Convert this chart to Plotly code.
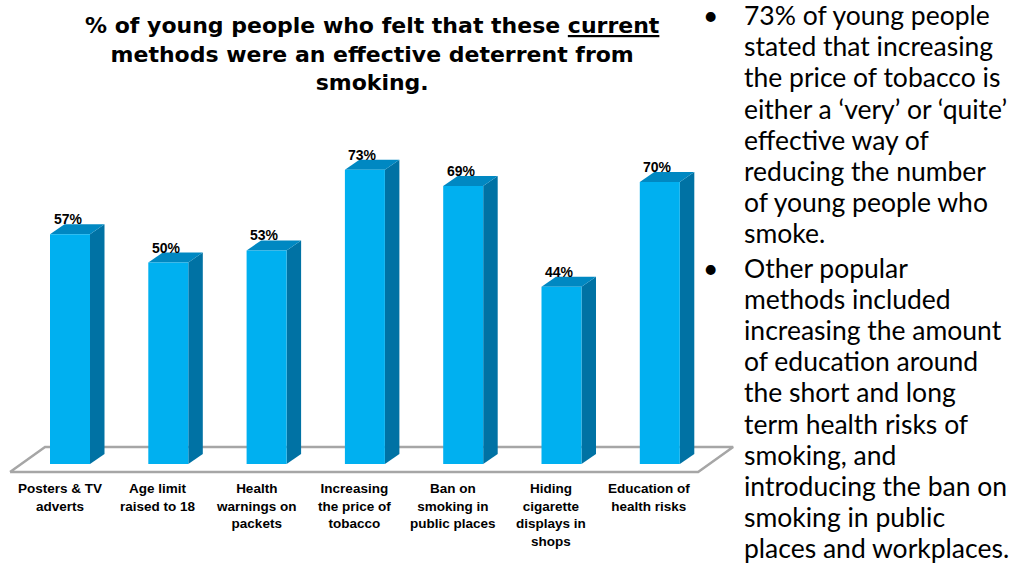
import plotly.graph_objects as go

# ---------------- data ----------------
categories = [
    "Posters & TV<br>adverts",
    "Age limit<br>raised to 18",
    "Health<br>warnings on<br>packets",
    "Increasing<br>the price of<br>tobacco",
    "Ban on<br>smoking in<br>public places",
    "Hiding<br>cigarette<br>displays in<br>shops",
    "Education of<br>health risks",
]
values = [57, 50, 53, 73, 69, 44, 70]
value_labels = [f"{v}%" for v in values]

title_lines = [
    "% of young people who felt that these <u>current</u>",
    "methods were an effective deterrent from",
    "smoking.",
]
bullet_1 = [
    "73% of young people",
    "stated that increasing",
    "the price of tobacco is",
    "either a \u2018very\u2019 or \u2018quite\u2019",
    "effective way of",
    "reducing the number",
    "of young people who",
    "smoke.",
]
bullet_2 = [
    "Other popular",
    "methods included",
    "increasing the amount",
    "of education around",
    "the short and long",
    "term health risks of",
    "smoking, and",
    "introducing the ban on",
    "smoking in public",
    "places and workplaces.",
]

# ---------------- layout calibration ----------------
W, H = 1031, 572
X0_PX, X_STEP_PX = 70.0, 98.3      # pixel of first category, pixels per category
Y0_PX, Y_STEP_PX = 464.0, 4.03     # pixel of value 0, pixels per percentage point
x_range = [(0 - X0_PX) / X_STEP_PX, (W - X0_PX) / X_STEP_PX]
y_range = [-(H - Y0_PX) / Y_STEP_PX, Y0_PX / Y_STEP_PX]

HALF = 20 / X_STEP_PX          # half width of bar front face
DX = 14.5 / X_STEP_PX          # 3D depth (x)
DY = 10 / Y_STEP_PX            # 3D depth (y)

FRONT = "#00B0F0"
TOP = "#0088C2"
SIDE = "#0072A4"
FLOOR_LINE = "#A6A6A6"

fig = go.Figure()

n = len(categories)
# floor (parallelogram)
fl_left, fl_right = -0.61, (n - 1) + 0.39
fl_front, fl_back = -8 / Y_STEP_PX, 17 / Y_STEP_PX
fl_dx = 35 / X_STEP_PX
fig.add_trace(go.Scatter(
    x=[fl_left, fl_right, fl_right + fl_dx, fl_left + fl_dx, fl_left],
    y=[fl_front, fl_front, fl_back, fl_back, fl_front],
    mode="lines", fill="toself", fillcolor="white",
    line=dict(color=FLOOR_LINE, width=2.5), hoverinfo="skip", showlegend=False))

for i, v in enumerate(values):
    l, r = i - HALF, i + HALF
    # side face
    fig.add_trace(go.Scatter(
        x=[r, r + DX, r + DX, r, r], y=[0, DY, v + DY, v, 0],
        mode="lines", fill="toself", fillcolor=SIDE, line=dict(width=0, color=SIDE),
        hoverinfo="skip", showlegend=False))
    # top face
    fig.add_trace(go.Scatter(
        x=[l, r, r + DX, l + DX, l], y=[v, v, v + DY, v + DY, v],
        mode="lines", fill="toself", fillcolor=TOP, line=dict(width=0, color=TOP),
        hoverinfo="skip", showlegend=False))
    # front face
    fig.add_trace(go.Scatter(
        x=[l, r, r, l, l], y=[0, 0, v, v, 0],
        mode="lines", fill="toself", fillcolor=FRONT, line=dict(width=0, color=FRONT),
        hoverinfo="skip", showlegend=False))

annotations = []
for i, (v, lab) in enumerate(zip(values, value_labels)):
    annotations.append(dict(
        x=i - 2 / X_STEP_PX, y=v + DY, xref="x", yref="y", text=lab, showarrow=False,
        xanchor="center", yanchor="bottom", yshift=-5,
        font=dict(family="Liberation Sans", size=14, color="black", weight="bold")))

for i, cat in enumerate(categories):
    annotations.append(dict(
        x=i - 10.5 / X_STEP_PX, y=fl_front, xref="x", yref="y", text=cat, showarrow=False,
        xanchor="center", yanchor="top", yshift=-7, align="center",
        font=dict(family="Liberation Sans", size=13.5, color="black", weight="bold")))

# title (single multi-line text)
annotations.append(dict(
    x=372 / W, y=1 - 54 / H, xref="paper", yref="paper", text="<br>".join(title_lines),
    showarrow=False, xanchor="center", yanchor="middle", align="center",
    font=dict(family="DejaVu Sans", size=22, color="black", weight="bold")))

# bullet text
LINE = 31.2
FS = 26.5
y = 15.0
for block in (bullet_1, bullet_2):
    annotations.append(dict(
        x=710 / W, y=1 - y / H, xref="paper", yref="paper", text="\u2022", showarrow=False,
        xanchor="center", yanchor="middle",
        font=dict(family="Lato", size=FS, color="black")))
    for line in block:
        annotations.append(dict(
            x=742 / W, y=1 - y / H, xref="paper", yref="paper", text=line, showarrow=False,
            xanchor="left", yanchor="middle",
            font=dict(family="Lato", size=FS, color="black")))
        y += LINE
    y += 3

fig.update_layout(
    width=W, height=H,
    margin=dict(l=0, r=0, t=0, b=0),
    paper_bgcolor="white", plot_bgcolor="white",
    xaxis=dict(range=x_range, visible=False, fixedrange=True),
    yaxis=dict(range=y_range, visible=False, fixedrange=True),
    annotations=annotations,
    showlegend=False,
    hovermode=False,
)

fig.write_html(
    "out.html",
    config={"displayModeBar": False},
    post_script="document.body.style.margin='0px';document.body.style.overflow='hidden';",
)
